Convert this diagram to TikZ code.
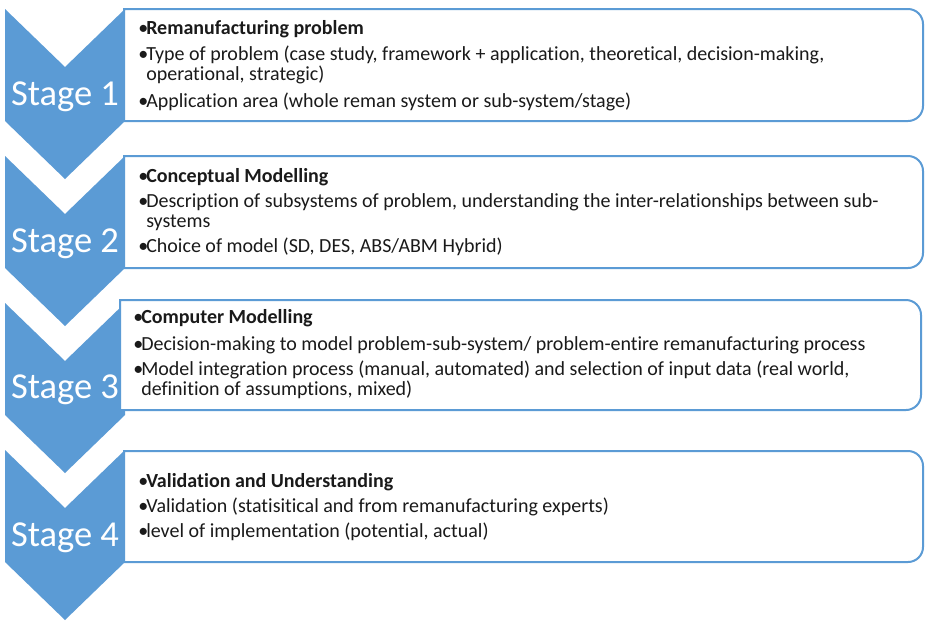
\documentclass[tikz,border=0pt]{standalone}
\usepackage{fontspec}
\setmainfont{Carlito}[Ligatures={NoCommon}]
\definecolor{stageblue}{HTML}{5B9BD5}
\definecolor{txt}{HTML}{1A1A1A}
\tikzset{
  chev/.style={fill=stageblue, draw=none},
  stagebox/.style={draw=stageblue, line width=1.5pt, fill=white},
  stagelbl/.style={text=white, font=\fontsize{27.4}{31}\selectfont, anchor=base, inner sep=0pt},
  bul/.style={text=txt, font=\fontsize{15}{18}\selectfont, anchor=base west, inner sep=0pt},
  line/.style={text=txt, font=\fontsize{15}{18}\selectfont, anchor=base west, inner sep=0pt},
  head/.style={text=txt, font=\fontsize{15}{18}\selectfont\bfseries, anchor=base west, inner sep=0pt},
}
\newcommand{\chevronat}[1]{%
  \fill[chev] (5,#1) -- (65,#1+58) -- (125,#1) -- (125,#1+112) -- (65,#1+170) -- (5,#1+112) -- cycle;}
\newcommand{\boxat}[4]{% left, top, right, bottom
  \draw[stagebox] (#1,#4) -- (#1,#2) -- (#3-15,#2) arc[start angle=-90, end angle=0, radius=15]
    -- (#3,#4-15) arc[start angle=0, end angle=90, radius=15] -- cycle;}
\begin{document}
\begin{tikzpicture}[x=0.75pt,y=-0.75pt]
\useasboundingbox (0,0) rectangle (925,622);
\fill[white] (0,0) rectangle (925,622);
% chevrons
\chevronat{9}
\chevronat{156}
\chevronat{303}
\chevronat{450}
% boxes
\boxat{124}{9}{923}{121}
\boxat{124}{156}{923}{268}
\boxat{120}{300}{921}{410}
\boxat{124}{451}{923}{562}
% stage labels
\node[stagelbl] (s1) at (65,105) {Stage 1};
\node[stagelbl] (s2) at (65,252) {Stage 2};
\node[stagelbl] (s3) at (65,398) {Stage 3};
\node[stagelbl] (s4) at (65,546) {Stage 4};
% box 1
\node[bul] (b1a) at (138,34) {•};
\node[head] (t1a) at (146,34) {Remanufacturing problem};
\node[bul] (b1b) at (138,60) {•};
\node[line] (t1b) at (146,60) {Type of problem (case study, framework + application, theoretical, decision-making,};
\node[line] (t1c) at (146,80) {operational, strategic)};
\node[bul] (b1d) at (138,107) {•};
\node[line] (t1d) at (146,107) {Application area (whole reman system or sub-system/stage)};
% box 2
\node[bul] (b2a) at (138,182) {•};
\node[head] (t2a) at (146,182) {Conceptual Modelling};
\node[bul] (b2b) at (138,207) {•};
\node[line] (t2b) at (146,207) {Description of subsystems of problem, understanding the inter-relationships between sub-};
\node[line] (t2c) at (146,227) {systems};
\node[bul] (b2d) at (138,252) {•};
\node[line] (t2d) at (146,252) {Choice of model (SD, DES, ABS/ABM Hybrid)};
% box 3
\node[bul] (b3a) at (133,323) {•};
\node[head] (t3a) at (141,323) {Computer Modelling};
\node[bul] (b3b) at (133,350) {•};
\node[line] (t3b) at (141,350) {Decision-making to model problem-sub-system/ problem-entire remanufacturing process};
\node[bul] (b3c) at (133,375) {•};
\node[line] (t3c) at (141,375) {Model integration process (manual, automated) and selection of input data (real world,};
\node[line] (t3d) at (141,395) {definition of assumptions, mixed)};
% box 4
\node[bul] (b4a) at (138,487) {•};
\node[head] (t4a) at (146,487) {Validation and Understanding};
\node[bul] (b4b) at (138,512) {•};
\node[line] (t4b) at (146,512) {Validation (statisitical and from remanufacturing experts)};
\node[bul] (b4c) at (138,537) {•};
\node[line] (t4c) at (146,537) {level of implementation (potential, actual)};
\end{tikzpicture}
\end{document}
